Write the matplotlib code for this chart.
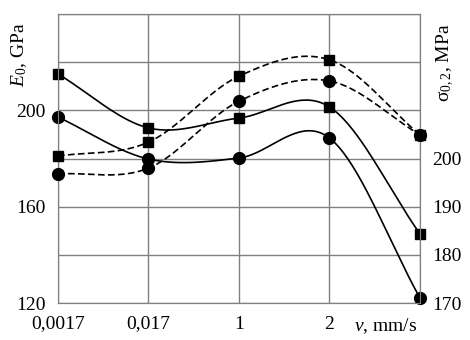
import numpy as np
import matplotlib
matplotlib.use('Agg')
import matplotlib.pyplot as plt

plt.rcParams['font.family'] = ['Liberation Serif', 'DejaVu Serif']
plt.rcParams['mathtext.fontset'] = 'custom'
plt.rcParams['mathtext.rm'] = 'Liberation Serif'
plt.rcParams['mathtext.it'] = 'Liberation Serif:italic'

# speeds, mm/s (last point has no label on the axis)
speed_labels = ['0,0017', '0,017', '1', '2', '']

# solid lines, left axis (E0, GPa)
e_squares = [215.1, 192.7, 196.8, 201.4, 148.7]
e_circles = [197.2, 179.8, 180.2, 188.5, 122.1]
# dashed lines, right axis (sigma 0.2, MPa)
s_squares = [200.5, 203.4, 217.1, 220.5, 204.9]
s_circles = [196.8, 198.0, 211.9, 216.1, 204.9]


def smooth(y, n=40):
    # catmull-rom style smoothing like a spreadsheet "smoothed line"
    y = np.asarray(y, float)
    x = np.arange(len(y), dtype=float)
    m = np.zeros_like(y)
    m[1:-1] = (y[2:] - y[:-2]) / 2
    m[0] = y[1] - y[0]
    m[-1] = y[-1] - y[-2]
    xs, ys = [], []
    for i in range(len(y) - 1):
        t = np.linspace(0, 1, n)
        h00 = 2*t**3 - 3*t**2 + 1
        h10 = t**3 - 2*t**2 + t
        h01 = -2*t**3 + 3*t**2
        h11 = t**3 - t**2
        xs.append(x[i] + t)
        ys.append(h00*y[i] + h10*m[i] + h01*y[i+1] + h11*m[i+1])
    return np.concatenate(xs), np.concatenate(ys)


fig = plt.figure(figsize=(4.7, 3.4), dpi=100)
ax = fig.add_axes([0.1234, 0.1088, 0.7702, 0.85])
ax2 = ax.twinx()

x = np.arange(len(speed_labels))
lw = 1.2
for data, mk, ms in [(e_squares, 's', 7.5), (e_circles, 'o', 8.5)]:
    sx, sy = smooth(data)
    ax.plot(sx, sy, color='black', lw=lw, zorder=3)
    ax.plot(x, data, mk, color='black', ms=ms, zorder=4, clip_on=False)
for data, mk, ms in [(s_squares, 's', 7.5), (s_circles, 'o', 8.5)]:
    sx, sy = smooth(data)
    ax2.plot(sx, sy, color='black', lw=lw, ls=(0, (4, 2)), zorder=3)
    ax2.plot(x, data, mk, color='black', ms=ms, zorder=4, clip_on=False)

ax.set_xlim(0, 4)
ax.set_ylim(120, 240)
ax2.set_ylim(170, 230)

ax.set_xticks(x)
ax.set_xticklabels(speed_labels)
ax.set_yticks([120, 140, 160, 180, 200, 220, 240])
ax.set_yticklabels(['120', '', '160', '', '200', '', ''])
ax2.set_yticks([170, 180, 190, 200])
ax2.set_yticklabels(['170', '180', '190', '200'])

gc = '#808080'
ax.grid(True, color=gc, lw=1)
ax.set_axisbelow(True)
for a in (ax, ax2):
    for s in a.spines.values():
        s.set_color(gc)
    a.tick_params(length=0, labelsize=14, pad=9)
ax.tick_params(axis='x', pad=9)

ax.set_ylabel('$E_0$, GPa', fontsize=14)
ax.yaxis.set_label_coords(-0.08, 0.86)
ax2.set_ylabel(r'σ$_{0,2}$, MPa', fontsize=14)
ax2.yaxis.set_label_coords(1.04, 0.83)

fig.text(0.82, 0.012, '$v$, mm/s', ha='center', va='bottom', fontsize=14)

fig.savefig('out.png', dpi=100)
